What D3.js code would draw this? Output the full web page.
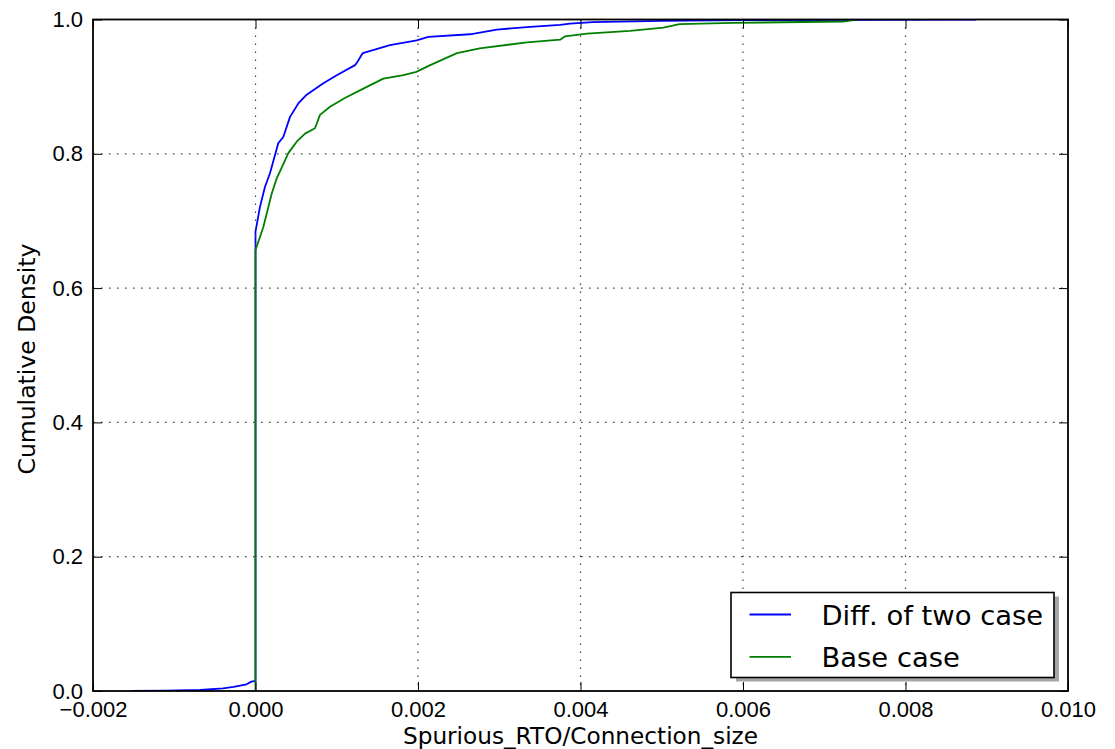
<!DOCTYPE html>
<html>
<head>
<meta charset="utf-8">
<script src="https://cdn.jsdelivr.net/npm/d3@7"></script>
<style>
  html, body { margin: 0; padding: 0; background: #fff; }
  svg { display: block; font-family: "DejaVu Sans", sans-serif; }
</style>
</head>
<body>
<svg id="chart" width="1115" height="749"></svg>
<script>
// values
const diffX = [-0.00154, -0.0011, -0.00068, -0.0004, -0.00027, -0.00011, -0.00005, 0, 0,
  0.000055, 0.000117, 0.000178, 0.000281, 0.000342, 0.000425, 0.000527, 0.00063, 0.000835,
  0.001, 0.001225, 0.00125, 0.00132, 0.001655, 0.001984, 0.002127, 0.00264, 0.00297,
  0.00338, 0.00375, 0.00387, 0.00415, 0.005, 0.006, 0.00887];
const diffY = [0, 0.0005, 0.0015, 0.004, 0.006, 0.010, 0.014, 0.015, 0.684,
  0.721, 0.751, 0.771, 0.816, 0.825, 0.855, 0.875, 0.888, 0.905,
  0.917, 0.932, 0.936, 0.950, 0.962, 0.969, 0.974, 0.978, 0.985,
  0.989, 0.992, 0.994, 0.996, 0.998, 0.999, 1.0];

const baseX = [0, 0, 0.000015, 0.0000964, 0.0002, 0.00026, 0.000404, 0.000507, 0.00061,
  0.000732, 0.000794, 0.000917, 0.0011, 0.001327, 0.001573, 0.00182, 0.00198, 0.00215,
  0.00248, 0.00276, 0.00334, 0.00375, 0.00381, 0.00408, 0.00461, 0.00502, 0.00522,
  0.00588, 0.00723, 0.0074];
const baseY = [0, 0.657, 0.662, 0.691, 0.741, 0.763, 0.801, 0.818, 0.830,
  0.838, 0.858, 0.870, 0.883, 0.897, 0.912, 0.917, 0.922, 0.932,
  0.950, 0.957, 0.966, 0.970, 0.975, 0.979, 0.983, 0.988, 0.993,
  0.995, 0.997, 1.0];

const xTicks = [-0.002, 0, 0.002, 0.004, 0.006, 0.008, 0.010];
const xTickLabels = ["\u22120.002", "0.000", "0.002", "0.004", "0.006", "0.008", "0.010"];
const yTicks = [0, 0.2, 0.4, 0.6, 0.8, 1.0];
const yTickLabels = ["0.0", "0.2", "0.4", "0.6", "0.8", "1.0"];

const seriesNames = ["Diff. of two case", "Base case"];
const seriesColors = ["#0000ff", "#008000"];

// layout
const margin = { top: 19.5, left: 93 };
const innerW = 975;
const innerH = 671.5;

const svg = d3.select("#chart");
const g = svg.append("g").attr("transform", `translate(${margin.left},${margin.top})`);

const x = d3.scaleLinear().domain([-0.002, 0.010]).range([0, innerW]);
const y = d3.scaleLinear().domain([0, 1]).range([innerH, 0]);

svg.append("defs").append("clipPath").attr("id", "clip")
  .append("rect").attr("width", innerW).attr("height", innerH);

// lines
const line = d3.line().x(d => x(d[0])).y(d => y(d[1]));
const series = [
  d3.zip(diffX, diffY),
  d3.zip(baseX, baseY)
];

g.append("g").attr("clip-path", "url(#clip)")
  .selectAll("path")
  .data(series)
  .join("path")
  .attr("d", line)
  .attr("fill", "none")
  .attr("stroke", (d, i) => seriesColors[i])
  .attr("stroke-width", 1.8)
  .attr("stroke-linejoin", "round");

// grid (drawn over the lines, like matplotlib)
const grid = g.append("g").attr("stroke", "#444").attr("stroke-width", 1.2)
  .attr("stroke-dasharray", "1.6,6.4");
grid.selectAll(".gx").data(xTicks.slice(1, -1)).join("line")
  .attr("x1", d => x(d)).attr("x2", d => x(d))
  .attr("y1", 0).attr("y2", innerH);
grid.selectAll(".gy").data(yTicks.slice(1, -1)).join("line")
  .attr("x1", 0).attr("x2", innerW)
  .attr("y1", d => y(d)).attr("y2", d => y(d));

// axes, ticks inward on all sides
const tickLen = 9;
const tickFmtX = (d, i) => xTickLabels[i];
const tickFmtY = (d, i) => yTickLabels[i];

function styleAxis(sel) {
  sel.select(".domain").remove();
  sel.selectAll(".tick line").attr("stroke", "#000").attr("stroke-width", 1);
  sel.selectAll("text").attr("fill", "#000").style("font-size", "22px");
}

g.append("g").attr("transform", `translate(0,${innerH})`)
  .call(d3.axisBottom(x).tickValues(xTicks).tickFormat(tickFmtX)
    .tickSizeInner(-tickLen).tickSizeOuter(0).tickPadding(10))
  .call(styleAxis);

g.append("g")
  .call(d3.axisTop(x).tickValues(xTicks).tickFormat("")
    .tickSizeInner(-tickLen).tickSizeOuter(0))
  .call(styleAxis);

g.append("g")
  .call(d3.axisLeft(y).tickValues(yTicks).tickFormat(tickFmtY)
    .tickSizeInner(-tickLen).tickSizeOuter(0).tickPadding(10))
  .call(styleAxis);

g.append("g").attr("transform", `translate(${innerW},0)`)
  .call(d3.axisRight(y).tickValues(yTicks).tickFormat("")
    .tickSizeInner(-tickLen).tickSizeOuter(0))
  .call(styleAxis);

// frame
g.append("rect")
  .attr("width", innerW).attr("height", innerH)
  .attr("fill", "none").attr("stroke", "#000").attr("stroke-width", 1.8);

// axis titles
svg.append("text")
  .attr("x", margin.left + innerW / 2)
  .attr("y", 744)
  .attr("text-anchor", "middle")
  .style("font-size", "23.2px")
  .text("Spurious_RTO/Connection_size");

svg.append("text")
  .attr("transform", "translate(35,359) rotate(-90)")
  .attr("text-anchor", "middle")
  .style("font-size", "23.5px")
  .text("Cumulative Density");

// legend
const legend = svg.append("g").attr("transform", "translate(731,592.5)");
const legW = 323, legH = 85;
legend.append("rect")
  .attr("x", 5).attr("y", 4).attr("width", legW).attr("height", legH)
  .attr("fill", "#a6a6a6");
legend.append("rect")
  .attr("width", legW).attr("height", legH)
  .attr("fill", "#fff").attr("stroke", "#000").attr("stroke-width", 1.6);

const items = legend.selectAll(".item").data(seriesNames).join("g")
  .attr("transform", (d, i) => `translate(0,${22 + i * 42.4})`);
items.append("line")
  .attr("x1", 18.5).attr("x2", 60)
  .attr("stroke", (d, i) => seriesColors[i]).attr("stroke-width", 1.8);
items.append("text")
  .attr("x", 90.5).attr("y", 10.5)
  .style("font-size", "27.4px")
  .text(d => d);
</script>
</body>
</html>
